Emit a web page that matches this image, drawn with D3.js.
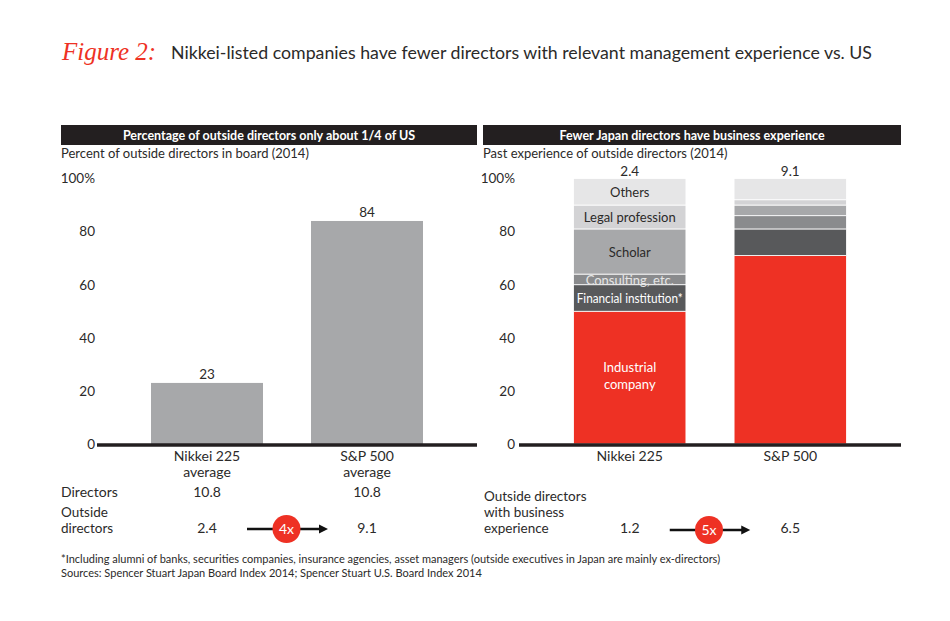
<!DOCTYPE html>
<html>
<head>
<meta charset="utf-8">
<script src="https://cdn.jsdelivr.net/npm/d3@7/dist/d3.min.js"></script>
<style>
  body { margin: 0; background: #ffffff; }
  svg { font-family: "Lato", "Open Sans", sans-serif; }
</style>
</head>
<body>
<svg></svg>
<script>
var screenWidth = 950
var screenHeight = 621

// data
var markets = ["Nikkei 225", "S&P 500"]
var outsideShare = [23, 84]
var directorsTotal = ["10.8", "10.8"]
var outsideDirectors = ["2.4", "9.1"]
var businessDirectors = ["1.2", "6.5"]

var experienceTypes = ["Industrial company", "Financial institution*", "Consulting, etc.", "Scholar", "Legal profession", "Others"]
var nikkeiExperience = [50, 10, 4, 17, 9, 10]
var spExperience = [71, 10, 5, 4, 2, 8]
var yTicks = [0, 20, 40, 60, 80, 100]

var textColor = "#2b2a29"
var red = "#ee3124"
var segColors = ["#ee3124", "#58595b", "#8a8b8d", "#a7a8aa", "#d3d3d5", "#e6e6e7"]
var segText = ["#ffffff", "#ffffff", "#e6e6e6", textColor, textColor, textColor]

var svg = d3.select('svg')
svg.attr("width", screenWidth)
svg.attr("height", screenHeight)

function addText(text, x, y, size, anchor, color, weight){
  return svg.append("text")
    .attr("x", x)
    .attr("y", y)
    .attr("text-anchor", anchor || "start")
    .attr("font-size", size)
    .attr("font-weight", weight || "normal")
    .attr("fill", color || textColor)
    .text(text)
}

// squeeze a label if it is wider than the room it has
function fitWidth(sel, maxW){
  if (sel.node().getComputedTextLength() > maxW) {
    sel.attr("textLength", maxW).attr("lengthAdjust", "spacingAndGlyphs")
  }
  return sel
}

// title
addText("Figure 2:", 62, 60, 25, "start", red)
  .attr("font-family", "Liberation Serif")
  .attr("font-style", "italic")
fitWidth(addText("Nikkei-listed companies have fewer directors with relevant management experience vs. US", 171, 59, 18), 701)

function header(x0, x1, label, sub){
  svg.append("rect")
    .attr("x", x0).attr("y", 125)
    .attr("width", x1 - x0).attr("height", 20)
    .attr("fill", "#231f20")
  addText(label, (x0 + x1) / 2, 140, 12.5, "middle", "#ffffff", "bold")
  addText(sub, x0, 158, 13)
}

var y = d3.scaleLinear().domain([0, 100]).range([444, 178.5])

function drawAxis(xAxisStart, xAxisEnd, labelX){
  var g = svg.append("g").attr("transform", "translate(" + labelX + ",0)")
  g.call(d3.axisLeft(y).tickValues(yTicks).tickSize(0).tickPadding(0)
      .tickFormat(d => d === 100 ? "100%" : d))
  g.select(".domain").remove()
  g.selectAll("text")
    .attr("font-size", 13.5)
    .attr("font-family", "Lato, sans-serif")
    .attr("fill", textColor)

  svg.append("line")
    .attr("x1", xAxisStart).attr("x2", xAxisEnd)
    .attr("y1", y(0) + 1).attr("y2", y(0) + 1)
    .attr("stroke", "#231f20")
    .attr("stroke-width", 3.5)
}

function arrow(x0, x1, cy, label){
  svg.append("line")
    .attr("x1", x0).attr("x2", x1 - 8)
    .attr("y1", cy).attr("y2", cy)
    .attr("stroke", "#111").attr("stroke-width", 2.5)
  svg.append("path")
    .attr("d", "M" + x1 + "," + cy + " L" + (x1 - 9) + "," + (cy - 4.5) + " L" + (x1 - 9) + "," + (cy + 4.5) + " Z")
    .attr("fill", "#111")
  var cx = (x0 + x1) / 2 - 1
  svg.append("circle").attr("cx", cx).attr("cy", cy).attr("r", 14).attr("fill", red)
  addText(label, cx, cy + 5, 14, "middle", "#ffffff")
}

// ---------- left panel ----------
header(61, 477, "Percentage of outside directors only about 1/4 of US", "Percent of outside directors in board (2014)")

var xLeft = d3.scaleBand().domain(markets).range([127, 447]).paddingInner(0.3).paddingOuter(0.15)

svg.append("g").selectAll("rect")
  .data(markets)
  .join("rect")
  .attr("x", d => xLeft(d))
  .attr("y", (d, i) => y(outsideShare[i]))
  .attr("width", xLeft.bandwidth())
  .attr("height", (d, i) => y(0) - y(outsideShare[i]))
  .attr("fill", "#a7a8aa")

markets.forEach(function(m, i){
  var cx = xLeft(m) + xLeft.bandwidth() / 2
  addText(outsideShare[i], cx, y(outsideShare[i]) - 4, 13.5, "middle")
  addText(m, cx, 461, 14, "middle")
  addText("average", cx, 477, 14, "middle")
  addText(directorsTotal[i], cx, 497, 14, "middle")
  addText(outsideDirectors[i], cx, 533, 14, "middle")
})

drawAxis(97, 477, 95)

addText("Directors", 61, 497, 14)
addText("Outside", 61, 517, 13.5)
addText("directors", 61, 533, 13.5)

var lc0 = xLeft(markets[0]) + xLeft.bandwidth() / 2
var lc1 = xLeft(markets[1]) + xLeft.bandwidth() / 2
arrow(lc0 + 40, lc1 - 39, 529, "4x")

// ---------- right panel ----------
header(483, 901, "Fewer Japan directors have business experience", "Past experience of outside directors (2014)")

var xRight = d3.scaleBand().domain(markets).range([549.5, 870.5]).paddingInner(0.3).paddingOuter(0.15)

// one record per market for d3.stack
var stackData = markets.map(function(m, k){
  var rec = {market: m}
  var vals = k === 0 ? nikkeiExperience : spExperience
  experienceTypes.forEach((t, j) => rec[t] = vals[j])
  return rec
})
var series = d3.stack().keys(experienceTypes)(stackData)

svg.append("g").selectAll("g")
  .data(series)
  .join("g")
  .attr("fill", (d, i) => segColors[i])
  .selectAll("rect")
  .data(d => d)
  .join("rect")
  .attr("x", d => xRight(d.data.market))
  .attr("y", d => y(d[1]))
  .attr("width", xRight.bandwidth())
  .attr("height", d => y(d[0]) - y(d[1]))
  .attr("stroke", "#ffffff")
  .attr("stroke-width", 0.8)

// labels inside the Nikkei bar
var nx = xRight(markets[0]) + xRight.bandwidth() / 2
series.forEach(function(s, i){
  var seg = s[0]
  var mid = y((seg[0] + seg[1]) / 2)
  if (s.key === "Industrial company") {
    addText("Industrial", nx, mid - 6, 13, "middle", segText[i])
    addText("company", nx, mid + 11, 13, "middle", segText[i])
  } else {
    var off = s.key === "Consulting, etc." ? 6 : 5
    fitWidth(addText(s.key, nx, mid + off, 13, "middle", segText[i]), 106)
  }
})

markets.forEach(function(m, i){
  var cx = xRight(m) + xRight.bandwidth() / 2
  addText(outsideDirectors[i], cx, y(100) - 3, 13.5, "middle")
  addText(m, cx, 461, 14, "middle")
  addText(businessDirectors[i], cx, 533, 14, "middle")
})

drawAxis(519, 901, 515)

addText("Outside directors", 484, 501, 13.5)
addText("with business", 484, 517, 13.5)
addText("experience", 484, 533, 13.5)

var rc0 = xRight(markets[0]) + xRight.bandwidth() / 2
var rc1 = xRight(markets[1]) + xRight.bandwidth() / 2
arrow(rc0 + 40, rc1 - 40, 530, "5x")

// ---------- notes ----------
addText("*Including alumni of banks, securities companies, insurance agencies, asset managers (outside executives in Japan are mainly ex-directors)", 61, 563, 11)
addText("Sources: Spencer Stuart Japan Board Index 2014; Spencer Stuart U.S. Board Index 2014", 61, 577, 11)
</script>
</body>
</html>
